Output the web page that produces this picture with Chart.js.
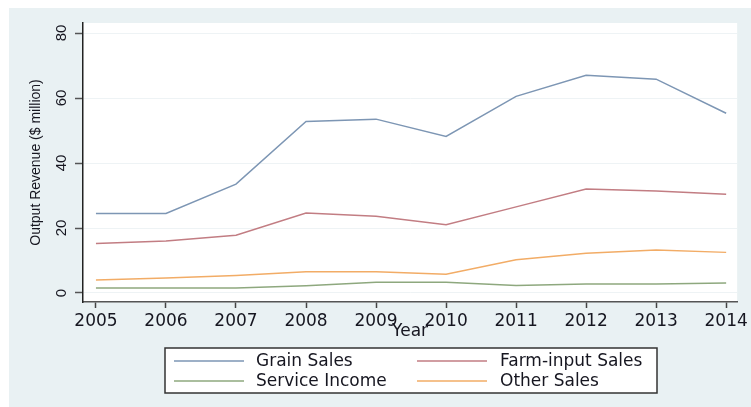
<!DOCTYPE html>
<html>
<head>
<meta charset="utf-8">
<script src="https://cdn.jsdelivr.net/npm/chart.js@4.4.1/dist/chart.umd.min.js"></script>
<style>
  html, body { margin: 0; padding: 0; background: #fff; }
  #wrap { position: relative; width: 751px; height: 407px; }
</style>
</head>
<body>
<div id="wrap"><canvas id="revenuechart" width="751" height="407"></canvas></div>
<script>
	/*----------------------------------------*/
	/*  data
	/*----------------------------------------*/
	var years = [2005, 2006, 2007, 2008, 2009, 2010, 2011, 2012, 2013, 2014];
	var grainSales = [24.5, 24.5, 33.5, 52.8, 53.5, 48.2, 60.5, 67, 65.8, 55.3];
	var farmInputSales = [15.2, 16, 17.8, 24.6, 23.6, 21, 26.5, 32, 31.4, 30.4];
	var serviceIncome = [1.5, 1.5, 1.5, 2.2, 3.3, 3.3, 2.3, 2.8, 2.8, 3.1];
	var otherSales = [4, 4.6, 5.4, 6.5, 6.5, 5.8, 10.2, 12.2, 13.2, 12.5];
	var yTicks = [0, 20, 40, 60, 80];

	function pts(vals) {
		return years.map(function (yr, i) { return { x: yr, y: vals[i] }; });
	}

	/*----------------------------------------*/
	/*  background + legend plugins
	/*----------------------------------------*/
	var bgPlugin = {
		id: 'bgPlugin',
		beforeDraw: function (chart) {
			var c = chart.ctx, a = chart.chartArea;
			c.save();
			c.fillStyle = '#ffffff';
			c.fillRect(0, 0, chart.width, chart.height);
			c.fillStyle = '#e9f1f3';
			c.fillRect(9, 8, chart.width - 9, chart.height - 8);
			c.fillStyle = '#ffffff';
			c.fillRect(a.left, a.top, a.right - a.left, a.bottom - a.top);
			c.restore();
		}
	};

	var boxLegend = {
		id: 'boxLegend',
		afterDraw: function (chart) {
			var c = chart.ctx;
			var ds = chart.data.datasets;
			var cols = [{ line: 174, text: 256 }, { line: 417, text: 500 }];
			var rows = [361, 381];
			c.save();
			c.fillStyle = '#ffffff';
			c.fillRect(165, 348, 492, 45);
			c.strokeStyle = '#333333';
			c.lineWidth = 1.5;
			c.strokeRect(165, 348, 492, 45);
			c.font = '17px "DejaVu Sans"';
			c.textBaseline = 'middle';
			c.fillStyle = '#161620';
			ds.forEach(function (d, i) {
				var col = cols[i % 2], y = rows[Math.floor(i / 2)];
				c.strokeStyle = d.borderColor;
				c.lineWidth = 1.5;
				c.beginPath();
				c.moveTo(col.line, y);
				c.lineTo(col.line + 70, y);
				c.stroke();
				c.fillText(d.label, col.text, y + 1);
			});
			c.restore();
		}
	};

	/*----------------------------------------*/
	/*  line chart
	/*----------------------------------------*/
	var ctx = document.getElementById("revenuechart");
	var revenuechart = new Chart(ctx, {
		type: 'line',
		data: {
			datasets: [{
				label: 'Grain Sales',
				data: pts(grainSales),
				borderColor: '#7d96b4'
			}, {
				label: 'Farm-input Sales',
				data: pts(farmInputSales),
				borderColor: '#c27d83'
			}, {
				label: 'Service Income',
				data: pts(serviceIncome),
				borderColor: '#8ea87e'
			}, {
				label: 'Other Sales',
				data: pts(otherSales),
				borderColor: '#f2ac66'
			}]
		},
		options: {
			responsive: false,
			animation: false,
			layout: { padding: { left: 0, right: 13, top: 23, bottom: 65 } },
			elements: {
				line: { borderWidth: 1.5, tension: 0, fill: false },
				point: { radius: 0, hoverRadius: 0 }
			},
			plugins: {
				legend: { display: false },
				tooltip: { enabled: false }
			},
			scales: {
				x: {
					type: 'linear',
					min: 2004.815,
					max: 2014.157,
					afterBuildTicks: function (s) {
						s.ticks = years.map(function (v) { return { value: v }; });
					},
					afterFit: function (s) { s.height = 40; },
					grid: { drawOnChartArea: false, tickLength: 6, tickColor: '#444', tickWidth: 1.5 },
					border: { color: '#555', width: 1.5 },
					ticks: {
						padding: 3,
						color: '#161620',
						font: { family: 'DejaVu Sans', size: 17 },
						callback: function (v) { return String(v); }
					},
					title: {
						display: true,
						text: 'Year',
						color: '#161620',
						font: { family: 'DejaVu Sans', size: 17 },
						padding: { top: 0, bottom: 0 }
					}
				},
				y: {
					min: -2.77,
					max: 83.08,
					afterBuildTicks: function (s) {
						s.ticks = yTicks.map(function (v) { return { value: v }; });
					},
					afterFit: function (s) { s.width = 83; },
					grid: { color: '#eef3f5', tickLength: 8, tickColor: '#555', tickWidth: 1.5 },
					border: { color: '#222', width: 1.5 },
					ticks: {
						minRotation: 90,
						maxRotation: 90,
						crossAlign: 'center',
						padding: 5,
						color: '#161620',
						font: { family: 'Liberation Sans', size: 15 }
					},
					title: {
						display: true,
						text: 'Output Revenue ($ million)',
						color: '#161620',
						font: { family: 'Liberation Sans', size: 14 },
						padding: { top: 28, bottom: 0 }
					}
				}
			}
		},
		plugins: [bgPlugin, boxLegend]
	});
</script>
</body>
</html>
